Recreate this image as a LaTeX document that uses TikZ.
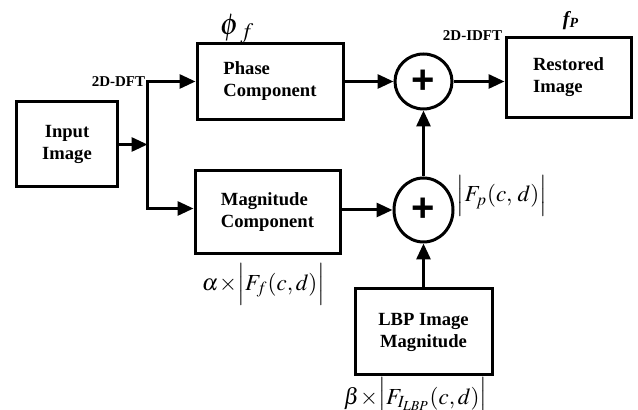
\documentclass[tikz,border=0pt]{standalone}
\usepackage{mathptmx}
\usepackage{amsmath}
\usepackage{fontspec}
\setmainfont{Liberation Serif}
\setsansfont{Liberation Sans}
\usepackage{tikz}
\usetikzlibrary{shapes.geometric, arrows.meta, positioning, calc}
\tikzset{
  block/.style={rectangle, draw=black, line width=1.5pt, inner sep=2pt,
    font=\fontsize{9.3}{11}\selectfont\bfseries},
  sumnode/.style={ellipse, draw=black, line width=1.5pt, inner sep=0pt,
    font=\sffamily\bfseries\fontsize{20}{20}\selectfont},
  arrow/.style={-{Triangle[length=8pt,width=7pt]}, line width=1.5pt, color=black},
  line/.style={line width=1.5pt, color=black},
  tag/.style={font=\fontsize{7.5}{8}\selectfont\bfseries, inner sep=1pt},
  mathlabel/.style={font=\fontsize{11.5}{12}\selectfont, inner sep=0pt}
}

\begin{document}
\begin{tikzpicture}[node distance=1cm]
  \useasboundingbox (-33.5pt,72.25pt) rectangle (285.5pt,-132.75pt);

  % Nodes
  \node[block, minimum width=50pt, minimum height=42.5pt, align=center] (input) {Input\\Image};
  \coordinate[right=14.5pt of input] (split);
  \coordinate[above=31.5pt of split] (top);
  \coordinate[below=32pt of split] (bot);

  \node[block, right=24pt of top, minimum width=73pt, minimum height=38pt, align=left] (phase) {Phase\\Component};
  \node[block, right=23pt of bot, yshift=-2pt, minimum width=72.5pt, minimum height=41.5pt, align=left] (mag) {Magnitude\\Component};

  \node[sumnode, right=24.5pt of phase, minimum width=28.5pt, minimum height=27.5pt] (sum1) {+};
  \node[sumnode, below=33pt of sum1, minimum width=29.5pt, minimum height=32pt] (sum2) {+};

  \node[block, right=25.5pt of sum1, yshift=2pt, minimum width=62.5pt, minimum height=40pt, align=left] (restored) {Restored\\Image};
  \node[block, below=22pt of sum2, minimum width=68.5pt, minimum height=43pt, align=center] (lbp) {LBP Image\\Magnitude};

  % Labels
  \node[tag, left=0pt of top] (dft) {2D-DFT};
  \node[tag, left=0pt of restored.north west] (idft) {2D-IDFT};
  \node[mathlabel, above right=-1pt and 12pt of phase.north west, font=\fontsize{15}{15}\selectfont] (phif) {$\phi_{\;f}$};
  \node[above=3pt of restored, xshift=1pt, inner sep=0pt] (fp) {\fontsize{10}{10}\selectfont\bfseries\itshape f\raisebox{-1pt}{\fontsize{7}{7}\selectfont P}};
  \node[mathlabel, right=1pt of sum2.east, yshift=7pt] (fpmag) {$\Bigl|F_p(c,\,d)\Bigr|$};
  \node[mathlabel, below=4pt of mag, xshift=-2pt] (alphalbl) {$\alpha\!\times\!\Bigl|F_f(c,d)\Bigr|$};
  \node[mathlabel, below=0.5pt of lbp, xshift=-4pt] (betalbl) {$\beta\!\times\!\Bigl|F_{I_{\scriptscriptstyle LBP}}(c,d)\Bigr|$};

  % Connections
  \draw[arrow] (input) -- (split);
  \draw[arrow] (bot) -- (top) -- (phase);
  \draw[arrow] (top) -- (bot) -- (mag.west |- bot);
  \draw[arrow] (phase) -- (sum1);
  \draw[arrow] (sum1) -- (sum1 -| restored.west);
  \draw[arrow] (mag.east |- sum2) -- (sum2);
  \draw[arrow] (sum2) -- (sum1);
  \draw[arrow] (lbp) -- (sum2);

\end{tikzpicture}
\end{document}
